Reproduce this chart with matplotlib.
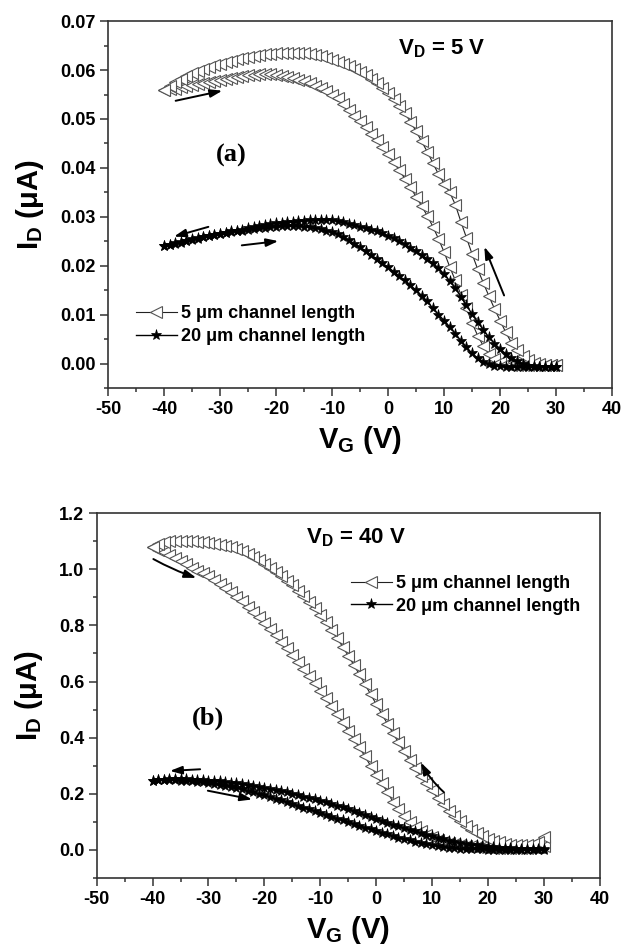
import numpy as np
import matplotlib
matplotlib.use('Agg')
import matplotlib.pyplot as plt
from matplotlib.ticker import MultipleLocator

plt.rcParams['font.family'] = ['Liberation Sans', 'DejaVu Sans']
plt.rcParams['font.weight'] = 'bold'
plt.rcParams['mathtext.fontset'] = 'custom'
plt.rcParams['mathtext.rm'] = 'Liberation Sans:bold'
plt.rcParams['mathtext.bf'] = 'Liberation Sans:bold'
plt.rcParams['axes.unicode_minus'] = False

# gate voltage sweep, 1 V steps
vg = np.arange(-40, 31)

# (a) VD = 5 V, drain current in uA
a5_fwd = [.0560, .0561, .0562, .0565, .0567, .0570, .0572, .0574, .0576, .0578,
          .0580, .0582, .0584, .0586, .0588, .0589, .0590, .0591, .0591, .0591,
          .0590, .0588, .0586, .0583, .0580, .0577, .0573, .0568, .0563, .0557,
          .0550, .0542, .0531, .0519, .0506, .0495, .0483, .0470, .0457, .0443,
          .0428, .0412, .0395, .0378, .0360, .0341, .0322, .0302, .0280, .0255,
          .0228, .0198, .0170, .0141, .0113, .0083, .0057, .0036, .0020, .0009,
          .0003, .0000, -.0002, -.0003, -.0003, -.0003, -.0003, -.0003, -.0003, -.0003,
          -.0003]
a5_bwd = [.0560, .0568, .0576, .0582, .0588, .0593, .0598, .0602, .0606, .0610,
          .0613, .0616, .0619, .0622, .0625, .0627, .0629, .0631, .0632, .0633,
          .0634, .0635, .0635, .0635, .0635, .0634, .0633, .0631, .0628, .0624,
          .0620, .0617, .0613, .0608, .0603, .0597, .0590, .0582, .0573, .0563,
          .0553, .0541, .0527, .0512, .0494, .0475, .0454, .0433, .0410, .0387,
          .0368, .0350, .0325, .0290, .0257, .0224, .0193, .0165, .0138, .0112,
          .0088, .0064, .0043, .0027, .0015, .0007, .0002, -.0001, -.0002, -.0002,
          -.0002]
a20_fwd = [.0240, .0242, .0244, .0247, .0250, .0253, .0255, .0258, .0260, .0262,
           .0264, .0266, .0268, .0270, .0272, .0274, .0276, .0277, .0278, .0279,
           .0280, .0281, .0281, .0281, .0281, .0280, .0279, .0277, .0275, .0272,
           .0268, .0264, .0258, .0252, .0245, .0238, .0230, .0222, .0214, .0205,
           .0197, .0188, .0179, .0170, .0160, .0150, .0139, .0127, .0113, .0100,
           .0088, .0075, .0061, .0047, .0033, .0021, .0011, .0004, -.0001, -.0004,
           -.0006, -.0007, -.0007, -.0008, -.0008, -.0008, -.0008, -.0008, -.0008, -.0008,
           -.0008]
a20_bwd = [.0240, .0243, .0246, .0248, .0251, .0254, .0256, .0259, .0261, .0263,
           .0265, .0267, .0270, .0272, .0274, .0277, .0279, .0281, .0283, .0285,
           .0287, .0288, .0289, .0290, .0291, .0292, .0293, .0294, .0294, .0294,
           .0293, .0291, .0289, .0286, .0283, .0280, .0277, .0274, .0270, .0266,
           .0261, .0256, .0250, .0244, .0237, .0230, .0222, .0214, .0205, .0195,
           .0183, .0169, .0154, .0137, .0119, .0101, .0085, .0069, .0054, .0041,
           .0030, .0020, .0012, .0005, .0000, -.0004, -.0006, -.0007, -.0008, -.0008,
           -.0008]

# (b) VD = 40 V
b5_fwd = [1.080, 1.070, 1.060, 1.050, 1.040, 1.030, 1.018, 1.006, .994, .985,
          .975, .962, .948, .933, .918, .902, .885, .867, .848, .828,
          .807, .786, .764, .741, .718, .694, .670, .645, .620, .594,
          .567, .540, .512, .484, .455, .425, .395, .365, .333, .300,
          .268, .237, .207, .172, .145, .120, .099, .081, .066, .054,
          .045, .037, .030, .026, .022, .018, .015, .013, .011, .010,
          .009, .008, .007, .006, .006, .006, .007, .008, .009, .011,
          .013]
b5_bwd = [1.080, 1.090, 1.096, 1.099, 1.100, 1.100, 1.100, 1.099, 1.098, 1.096,
          1.094, 1.091, 1.088, 1.084, 1.079, 1.072, 1.064, 1.055, 1.044, 1.032,
          1.019, 1.005, .990, .975, .959, .942, .924, .905, .884, .862,
          .838, .812, .784, .755, .724, .692, .659, .625, .590, .555,
          .520, .485, .450, .416, .383, .351, .320, .291, .263, .237,
          .212, .185, .162, .140, .120, .102, .086, .072, .060, .049,
          .040, .033, .027, .022, .019, .017, .016, .017, .021, .029,
          .045]
b20_fwd = [.247, .248, .248, .248, .248, .247, .246, .245, .243, .241,
           .239, .236, .233, .229, .225, .221, .216, .211, .206, .200,
           .195, .189, .183, .177, .170, .164, .158, .151, .145, .138,
           .132, .125, .119, .112, .106, .099, .093, .086, .080, .074,
           .068, .062, .056, .050, .044, .039, .034, .029, .024, .020,
           .016, .013, .010, .008, .006, .004, .003, .002, .002, .002,
           .001, .001, .001, .001, .001, .001, .001, .001, .001, .001,
           .001]
b20_bwd = [.247, .249, .250, .251, .251, .251, .251, .250, .249, .248,
           .247, .246, .244, .242, .240, .237, .234, .231, .228, .224,
           .221, .217, .213, .209, .205, .200, .195, .190, .185, .180,
           .175, .170, .164, .158, .152, .145, .138, .131, .124, .117,
           .110, .103, .097, .090, .084, .078, .072, .066, .060, .054,
           .048, .043, .038, .033, .029, .025, .022, .019, .016, .014,
           .012, .010, .008, .007, .006, .005, .004, .003, .003, .002,
           .002]

labels = ['5 \u03bcm channel length', '20 \u03bcm channel length']

fig = plt.figure(figsize=(6.24, 9.48), dpi=100)
ax1 = fig.add_axes([0.173, 0.5907, 0.808, 0.387])
ax2 = fig.add_axes([0.155, 0.0738, 0.806, 0.385])

loop_x = np.concatenate([vg, vg[::-1]])


def draw(ax, fwd5, bwd5, fwd20, bwd20):
    y5 = np.concatenate([fwd5, bwd5[::-1]])
    y20 = np.concatenate([fwd20, bwd20[::-1]])
    ax.plot(loop_x, y5, color='#222222', lw=0.8, marker='<', ms=8,
            mfc='white', mec='#555555', mew=0.8, label=labels[0])
    ax.plot(loop_x, y20, color='black', lw=1.0, marker='*', ms=8,
            mfc='black', mec='black', mew=0.5, label=labels[1])
    ax.set_xlim(-50, 40)
    ax.xaxis.set_major_locator(MultipleLocator(10))
    ax.xaxis.set_minor_locator(MultipleLocator(5))
    ax.tick_params(which='both', direction='out', top=False, right=False,
                   labelsize=13, width=1.1, color='#333333')
    ax.tick_params(which='major', length=5.5)
    ax.tick_params(which='minor', length=2.8)
    for s in ax.spines.values():
        s.set_linewidth(1.2)
        s.set_color('#333333')
    for t in ax.get_xticklabels() + ax.get_yticklabels():
        t.set_fontweight('bold')
    ax.set_xlabel(r'V$_\mathbf{G}$ (V)', fontsize=21, fontweight='bold', labelpad=5)
    ax.set_ylabel('I$_\\mathbf{D}$ (\u03bcA)', fontsize=21, fontweight='bold',
                  labelpad=10)


def arrow(ax, x0, y0, x1, y1, rad=0.0):
    ax.annotate('', xy=(x1, y1), xytext=(x0, y0),
                arrowprops=dict(arrowstyle='-|>,head_length=0.6,head_width=0.2',
                                color='black', lw=1.4, mutation_scale=12,
                                connectionstyle='arc3,rad=%s' % rad))


draw(ax1, a5_fwd, a5_bwd, a20_fwd, a20_bwd)
ax1.set_ylim(-0.005, 0.07)
ax1.yaxis.set_major_locator(MultipleLocator(0.01))
ax1.yaxis.set_minor_locator(MultipleLocator(0.005))
ax1.yaxis.set_major_formatter(plt.FormatStrFormatter('%.2f'))
ax1.text(9.6, 0.0644, r'V$_\mathbf{D}$ = 5 V', fontsize=16, fontweight='bold',
         ha='center', va='center')
ax1.text(-28, 0.0426, '(a)', fontsize=19, fontweight='bold',
         family='Liberation Serif', ha='center', va='center')
ax1.legend(loc='upper left', bbox_to_anchor=(0.055, 0.225), frameon=False,
           fontsize=13, handlelength=2.3, handletextpad=0.2, labelspacing=0.3,
           borderpad=0, borderaxespad=0)
arrow(ax1, -38.4, 0.0536, -29.1, 0.0559)
arrow(ax1, -31.6, 0.0281, -38.7, 0.0258)
arrow(ax1, -26.6, 0.0241, -19.1, 0.0251)
arrow(ax1, 20.9, 0.0134, 17.0, 0.0244)

draw(ax2, b5_fwd, b5_bwd, b20_fwd, b20_bwd)
ax2.set_ylim(-0.1, 1.2)
ax2.yaxis.set_major_locator(MultipleLocator(0.2))
ax2.yaxis.set_minor_locator(MultipleLocator(0.1))
ax2.yaxis.set_major_formatter(plt.FormatStrFormatter('%.1f'))
ax2.text(-3.7, 1.113, r'V$_\mathbf{D}$ = 40 V', fontsize=16, fontweight='bold',
         ha='center', va='center')
ax2.text(-30, 0.47, '(b)', fontsize=19, fontweight='bold',
         family='Liberation Serif', ha='center', va='center')
ax2.legend(loc='upper left', bbox_to_anchor=(0.505, 0.83), frameon=False,
           fontsize=13, handlelength=2.3, handletextpad=0.2, labelspacing=0.3,
           borderpad=0, borderaxespad=0)
arrow(ax2, -40.3, 1.041, -31.7, 0.966, rad=0.05)
arrow(ax2, -31.0, 0.288, -37.4, 0.281)
arrow(ax2, -30.6, 0.213, -21.7, 0.178)
arrow(ax2, 12.5, 0.199, 7.8, 0.32, rad=-0.1)

fig.savefig('out.png', dpi=100)
